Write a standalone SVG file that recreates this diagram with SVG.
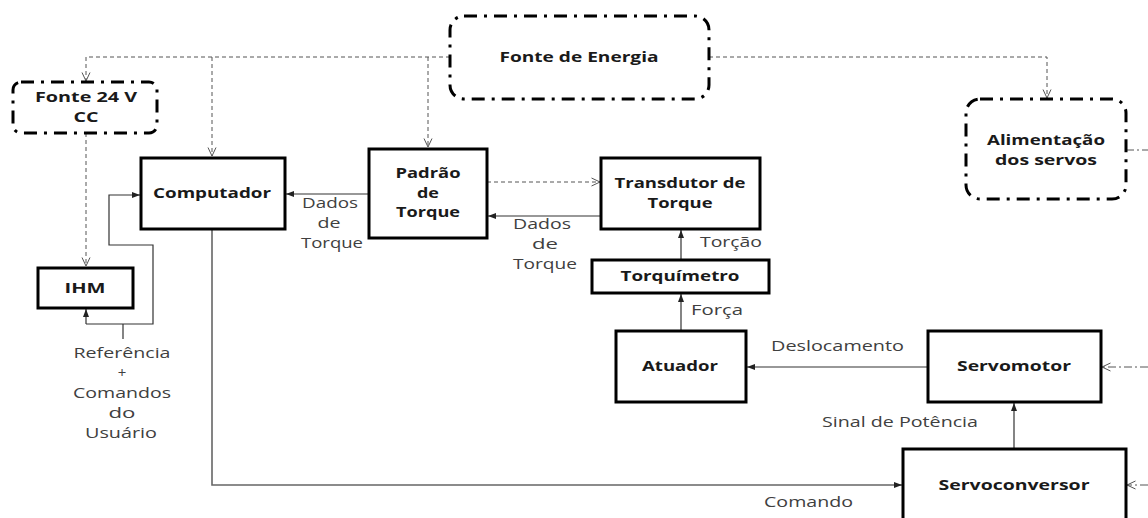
<svg xmlns="http://www.w3.org/2000/svg" width="1148" height="518" viewBox="0 0 1148 518">
<style>
.box{fill:#fff;stroke:#000;stroke-width:3}
.dd{fill:#fff;stroke:#000;stroke-width:3;stroke-dasharray:13 7 3 7}
.sl{fill:none;stroke:#333;stroke-width:1.2}
.gl{fill:none;stroke:#666;stroke-width:1.6}
.dl{fill:none;stroke:#555;stroke-width:1;stroke-dasharray:4 3}
.ddl{fill:none;stroke:#555;stroke-width:1;stroke-dasharray:8 3 2 3}
.b{font-family:"Open Sans","Liberation Sans",sans-serif;font-weight:bold;font-size:15px;fill:#1a1a1a;text-anchor:middle}
.r{font-family:"Open Sans","Liberation Sans",sans-serif;font-size:15px;fill:#404040;text-anchor:middle}
.rs{font-family:"Open Sans","Liberation Sans",sans-serif;font-size:15px;fill:#404040}
</style>
<defs>
<marker id="fa" viewBox="0 0 8 8" refX="8" refY="4" markerWidth="8" markerHeight="8" markerUnits="userSpaceOnUse" orient="auto"><path d="M0,1 L8,4 L0,7 z" fill="#222"/></marker>
<marker id="oa" viewBox="0 0 10 10" refX="9.5" refY="5" markerWidth="10" markerHeight="10" markerUnits="userSpaceOnUse" orient="auto"><path d="M1,1 L9.5,5 L1,9" fill="none" stroke="#555" stroke-width="1"/></marker>
</defs>
<rect width="1148" height="518" fill="#fff"/>
<g id="connectors">
<path class="dl" d="M450,57 H86 V81" marker-end="url(#oa)"/>
<path class="dl" d="M212,57 V156" marker-end="url(#oa)"/>
<path class="dl" d="M428,57 V147" marker-end="url(#oa)"/>
<path class="dl" d="M709,57 H1047 V98" marker-end="url(#oa)"/>
<path class="dl" d="M86,133 V266" marker-end="url(#oa)"/>
<path class="dl" d="M487,182 H600" marker-end="url(#oa)"/>
<path class="ddl" d="M1148,367 H1102" marker-end="url(#oa)"/>
<path class="ddl" d="M1148,485 H1127" marker-end="url(#oa)"/>
<path class="ddl" d="M1126,150 H1148"/>
<path class="sl" d="M369,194 H286" marker-end="url(#fa)"/>
<path class="sl" d="M601,216 H488" marker-end="url(#fa)"/>
<path class="sl" d="M681,260 V230" marker-end="url(#fa)"/>
<path class="sl" d="M681,331 V294" marker-end="url(#fa)"/>
<path class="sl" d="M928,367 H747" marker-end="url(#fa)"/>
<path class="sl" d="M1014,449 V403" marker-end="url(#fa)"/>
<path class="gl" d="M212,229 V485 H902" marker-end="url(#fa)"/>
<path class="sl" d="M123,339 V324"/>
<path class="sl" d="M86,324 H153 V245 H109 V195 H140" marker-end="url(#fa)"/>
<path class="sl" d="M86,324 V309" marker-end="url(#fa)"/>
</g>
<g id="fonte-energia">
<rect class="dd" x="450" y="16" width="259" height="83" rx="14"/>
<text class="b" x="579" y="62" textLength="159" lengthAdjust="spacingAndGlyphs">Fonte de Energia</text>
</g>
<g id="fonte-24v">
<rect class="dd" x="13" y="82" width="144" height="51" rx="8"/>
<text class="b" x="86" y="102" textLength="102" lengthAdjust="spacingAndGlyphs">Fonte 24 V</text>
<text class="b" x="86" y="122" textLength="25" lengthAdjust="spacingAndGlyphs">CC</text>
</g>
<g id="alimentacao">
<rect class="dd" x="966" y="99" width="160" height="100" rx="14"/>
<text class="b" x="1046" y="145" textLength="118" lengthAdjust="spacingAndGlyphs">Alimentação</text>
<text class="b" x="1046" y="165" textLength="102" lengthAdjust="spacingAndGlyphs">dos servos</text>
</g>
<g id="computador">
<rect class="box" x="141" y="158" width="144" height="71"/>
<text class="b" x="212" y="198" textLength="118" lengthAdjust="spacingAndGlyphs">Computador</text>
</g>
<g id="ihm">
<rect class="box" x="38" y="268" width="95" height="40"/>
<text class="b" x="85" y="293" textLength="41" lengthAdjust="spacingAndGlyphs">IHM</text>
</g>
<g id="padrao">
<rect class="box" x="369" y="149" width="118" height="89"/>
<text class="b" x="428" y="178" textLength="65" lengthAdjust="spacingAndGlyphs">Padrão</text>
<text class="b" x="428" y="198" textLength="22" lengthAdjust="spacingAndGlyphs">de</text>
<text class="b" x="428" y="217" textLength="64" lengthAdjust="spacingAndGlyphs">Torque</text>
</g>
<g id="transdutor">
<rect class="box" x="601" y="158" width="159" height="71"/>
<text class="b" x="680" y="188" textLength="131" lengthAdjust="spacingAndGlyphs">Transdutor de</text>
<text class="b" x="680" y="208" textLength="65" lengthAdjust="spacingAndGlyphs">Torque</text>
</g>
<g id="torquimetro">
<rect class="box" x="592" y="260" width="177" height="33"/>
<text class="b" x="680" y="281" textLength="119" lengthAdjust="spacingAndGlyphs">Torquímetro</text>
</g>
<g id="atuador">
<rect class="box" x="616" y="331" width="130" height="71"/>
<text class="b" x="680" y="371" textLength="76" lengthAdjust="spacingAndGlyphs">Atuador</text>
</g>
<g id="servomotor">
<rect class="box" x="928" y="331" width="173" height="71"/>
<text class="b" x="1014" y="371" textLength="114" lengthAdjust="spacingAndGlyphs">Servomotor</text>
</g>
<g id="servoconversor">
<rect class="box" x="903" y="449" width="223" height="80"/>
<text class="b" x="1014" y="490" textLength="151" lengthAdjust="spacingAndGlyphs">Servoconversor</text>
</g>
<g id="labels">
<text class="r" x="330" y="208" textLength="56" lengthAdjust="spacingAndGlyphs">Dados</text>
<text class="r" x="329" y="228" textLength="23" lengthAdjust="spacingAndGlyphs">de</text>
<text class="r" x="332" y="248" textLength="62" lengthAdjust="spacingAndGlyphs">Torque</text>
<text class="r" x="542" y="229" textLength="58" lengthAdjust="spacingAndGlyphs">Dados</text>
<text class="r" x="545" y="249" textLength="26" lengthAdjust="spacingAndGlyphs">de</text>
<text class="r" x="545" y="269" textLength="64" lengthAdjust="spacingAndGlyphs">Torque</text>
<text class="rs" x="700" y="247" textLength="62" lengthAdjust="spacingAndGlyphs">Torção</text>
<text class="rs" x="691" y="315" textLength="52" lengthAdjust="spacingAndGlyphs">Força</text>
<text class="rs" x="771" y="351" textLength="133" lengthAdjust="spacingAndGlyphs">Deslocamento</text>
<text class="rs" x="822" y="427" textLength="156" lengthAdjust="spacingAndGlyphs">Sinal de Potência</text>
<text class="rs" x="764" y="507" textLength="89" lengthAdjust="spacingAndGlyphs">Comando</text>
<text class="r" x="122" y="358" textLength="97" lengthAdjust="spacingAndGlyphs">Referência</text>
<text class="r" x="122" y="378">+</text>
<text class="r" x="122" y="398" textLength="98" lengthAdjust="spacingAndGlyphs">Comandos</text>
<text class="r" x="122" y="418" textLength="27" lengthAdjust="spacingAndGlyphs">do</text>
<text class="r" x="121" y="438" textLength="72" lengthAdjust="spacingAndGlyphs">Usuário</text>
</g>
</svg>
